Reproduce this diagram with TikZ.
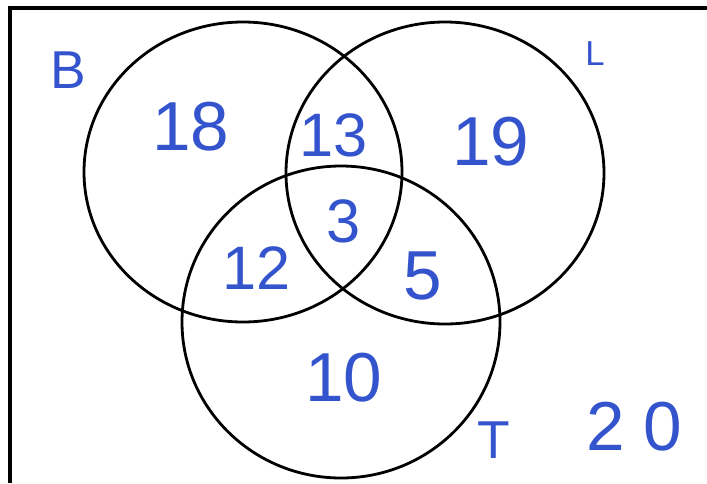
\documentclass[tikz,border=0pt]{standalone}
\usepackage{fontspec}
\setmainfont{Liberation Sans}
\definecolor{ink}{RGB}{52,84,205}
\begin{document}
\begin{tikzpicture}[x=0.75pt,y=-0.75pt,
  setline/.style={line width=2.1pt,black},
  frameline/.style={line width=2.3pt,black},
  big/.style={text=ink,inner sep=0pt,font=\fontsize{52}{52}\selectfont},
  mid/.style={text=ink,inner sep=0pt,font=\fontsize{46}{46}\selectfont},
  lab/.style={text=ink,inner sep=0pt,font=\fontsize{40}{40}\selectfont},
  small/.style={text=ink,inner sep=0pt,font=\fontsize{26}{26}\selectfont}]
\useasboundingbox (0,0) rectangle (707,483);
\fill[white] (0,0) rectangle (707,483);
% frame
\coordinate (fbl) at (10,483);
\coordinate (ftl) at (10,8);
\coordinate (ftr) at (707,8);
\draw[frameline] (fbl) -- (ftl) -- (ftr);
% sets
\node (cB) at (243,172) {};
\node (cL) at (445,173) {};
\node (cT) at (341,322) {};
\draw[setline] (cB.center) ellipse [x radius=159, y radius=150];
\draw[setline] (cL.center) ellipse [x radius=159, y radius=151];
\draw[setline] (cT.center) ellipse [x radius=159, y radius=156];
% labels
\node[lab] (lB) at (68,70) {B};
\node[small] (lL) at (595,54) {L};
\node[lab] (lT) at (494,440) {T};
\node[big] (n18) at (191,127) {18};
\node[mid] (n13) at (334,135) {13};
\node[big] (n19) at (491,142) {19};
\node[mid] (n3) at (344,221) {3};
\node[mid] (n12) at (257,268) {12};
\node[big] (n5) at (423,276) {5};
\node[big] (n10) at (344,378) {10};
\node[big] (n20) at (634,427) {2\hspace{14pt}0};
\end{tikzpicture}
\end{document}
